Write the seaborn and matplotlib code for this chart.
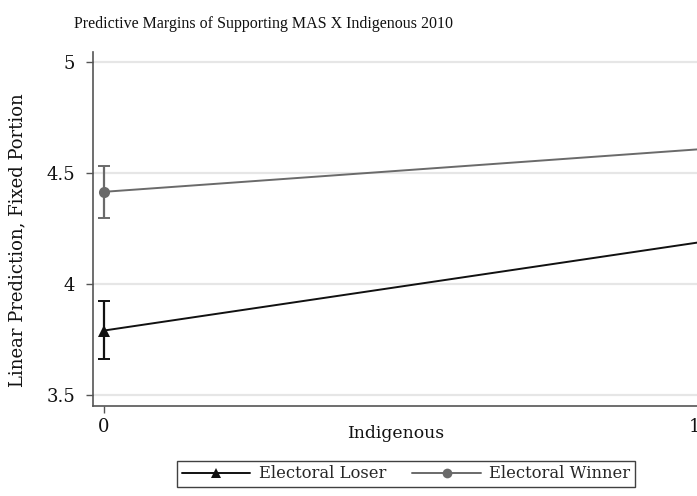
import pandas as pd
import matplotlib.pyplot as plt
import matplotlib.transforms as mtransforms
import seaborn as sns

# 값
indigenous = [0, 1]
loser_margin = [3.79, 4.19]
winner_margin = [4.415, 4.608]
groups = ['Electoral Loser', 'Electoral Winner']
# x=0 에서의 신뢰구간
loser_ci0 = [3.662, 3.923]
winner_ci0 = [4.297, 4.532]

df = pd.DataFrame({
    'Indigenous': indigenous * 2,
    'Margin': loser_margin + winner_margin,
    'Group': [groups[0]] * 2 + [groups[1]] * 2,
})

sns.set_style('white')
plt.rcParams['font.family'] = ['DejaVu Serif', 'Liberation Serif']

colors = {groups[0]: '#111111', groups[1]: '#6a6a6a'}
marks = {groups[0]: '^', groups[1]: 'o'}

fig = plt.figure(figsize=(6.97, 4.96), dpi=100)
# 원본처럼 오른쪽이 잘리도록 축을 그림 밖까지 늘림
ax = fig.add_axes([93 / 697, 90 / 496, 621 / 697, 354 / 496])

# 신뢰구간
for g, ci, m in [(groups[0], loser_ci0, loser_margin[0]), (groups[1], winner_ci0, winner_margin[0])]:
    ax.errorbar([0], [m], yerr=[[m - ci[0]], [ci[1] - m]], fmt='none',
                ecolor=colors[g], elinewidth=1.6, capsize=4, capthick=1.4, zorder=3)

sns.lineplot(data=df, x='Indigenous', y='Margin', hue='Group', style='Group',
             palette=colors, markers=marks, dashes=False, linewidth=1.4,
             markersize=8, markeredgewidth=0, ax=ax, legend=False, zorder=4)

ax.set_xlim(-0.01836, 1.01836)
ax.set_ylim(3.45, 5.045)
ax.set_xticks([0, 1])
ax.set_yticks([3.5, 4, 4.5, 5])
ax.set_yticklabels(['3.5', '4', '4.5', '5'])
ax.set_xlabel('')
ax.set_ylabel('')
ax.grid(axis='y', color='#e6e6e6', linewidth=1.6)
ax.grid(axis='x', visible=False)
for s in ['top', 'right']:
    ax.spines[s].set_visible(False)
for s in ['left', 'bottom']:
    ax.spines[s].set_color('#555555')
    ax.spines[s].set_linewidth(1.2)
ax.tick_params(axis='both', length=5, width=1, color='#555555', labelsize=13,
               labelcolor='#111111', pad=8, left=True, bottom=True)
ax.tick_params(axis='x', pad=4)

# 오른쪽 끝에서 잘린 "1" 라벨을 조금 왼쪽으로
lab1 = ax.get_xticklabels()[1]
lab1.set_transform(lab1.get_transform() + mtransforms.ScaledTranslation(-9 / 100, 0, fig.dpi_scale_trans))

fig.text(264 / 697, 1 - 24 / 496, 'Predictive Margins of Supporting MAS X Indigenous 2010',
         ha='center', va='center', fontsize=11.5, family='Liberation Serif', color='#111111')
fig.text(396 / 697, 1 - 434 / 496, 'Indigenous', ha='center', va='center',
         fontsize=12.4, color='#111111')
fig.text(17 / 697, 1 - 240 / 496, 'Linear Prediction, Fixed Portion', ha='center', va='center',
         rotation=90, fontsize=13, color='#111111')

handles = [plt.Line2D([], [], color=colors[g], marker=marks[g], markersize=7,
                      markeredgewidth=0, linewidth=1.4) for g in groups]
leg = fig.legend(handles, groups, loc='center', bbox_to_anchor=(406 / 697, 1 - 474 / 496),
                 ncol=2, frameon=True, fancybox=False, fontsize=11.8, handlelength=4.2,
                 columnspacing=1.6, borderpad=0.3, handletextpad=0.5)
leg.get_frame().set_edgecolor('#111111')
leg.get_frame().set_linewidth(1.0)

fig.savefig('out.png', dpi=100)
